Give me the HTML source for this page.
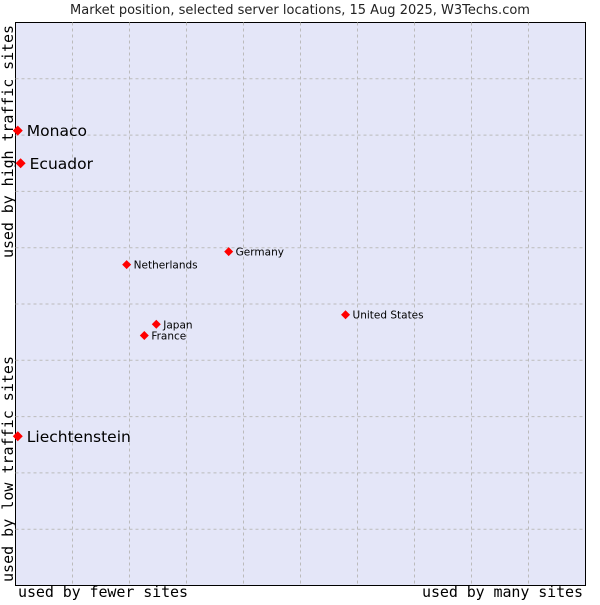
<!DOCTYPE html>
<html><head><meta charset="utf-8"><style>
body{margin:0;background:#fff;width:600px;height:600px;overflow:hidden}
svg text{font-family:"DejaVu Sans",sans-serif}
.mono{font-family:"DejaVu Sans Mono","Liberation Mono",monospace}
</style></head><body>
<svg id="chart" width="600" height="600">
<text x="300" y="14" text-anchor="middle" font-size="13" fill="#222">Market position, selected server locations, 15 Aug 2025, W3Techs.com</text>
<rect x="15.5" y="22.5" width="570" height="563" fill="#e4e6f8" stroke="#000"/>
<g id="grid"></g>
<g id="pts"></g>
<text class="mono" x="18" y="597" font-size="15" textLength="170" fill="#000">used by fewer sites</text>
<text class="mono" x="422" y="597" font-size="15" textLength="161" fill="#000">used by many sites</text>
<text class="mono" transform="translate(13,258) rotate(-90)" font-size="15" textLength="233" fill="#000">used by high traffic sites</text>
<text class="mono" transform="translate(13,582) rotate(-90)" font-size="15" textLength="226" fill="#000">used by low traffic sites</text>
</svg>
<script>
const names=["Monaco","Ecuador","Netherlands","Germany","United States","Japan","France","Liechtenstein"];
const xs=[0.4,0.9,19.5,37.4,57.9,24.7,22.6,0.4];
const ys=[80.8,75.0,57.0,59.3,48.1,46.4,44.4,26.5];
const big=[true,true,false,false,false,false,false,true];
const L=15.5,R=585.5,T=22.5,B=585.5;
const sx=v=>L+(R-L)*v/100, sy=v=>B-(B-T)*v/100;
const ns="http://www.w3.org/2000/svg";
const g=document.getElementById('grid');
for(let i=1;i<10;i++){
 const v=document.createElementNS(ns,'line');
 
 
 v.setAttribute('x1',sx(i*10));v.setAttribute('x2',sx(i*10));v.setAttribute('y1',T);v.setAttribute('y2',B);
 v.setAttribute('stroke','#bbb');v.setAttribute('stroke-dasharray','3,3');g.appendChild(v);
 const h=document.createElementNS(ns,'line');
 
 
 h.setAttribute('y1',sy(i*10));h.setAttribute('y2',sy(i*10));h.setAttribute('x1',L);h.setAttribute('x2',R);
 h.setAttribute('stroke','#bbb');h.setAttribute('stroke-dasharray','3,3');g.appendChild(h);
}
const p=document.getElementById('pts');
names.forEach((n,i)=>{
 const x=sx(xs[i]),y=sy(ys[i]),r=big[i]?5:4.5;
 const d=document.createElementNS(ns,'polygon');
 
 
 d.setAttribute('points',`${x},${y-r} ${x+r},${y} ${x},${y+r} ${x-r},${y}`);
 d.setAttribute('fill','#f00');p.appendChild(d);
 const t=document.createElementNS(ns,'text');
 
 
 t.setAttribute('x',x+(big[i]?9:7));t.setAttribute('y',y+(big[i]?5.5:4));
 t.setAttribute('font-size',big[i]?15.5:10.5);t.setAttribute('fill','#000');
 t.textContent=n;p.appendChild(t);
});
</script>
</body></html>
